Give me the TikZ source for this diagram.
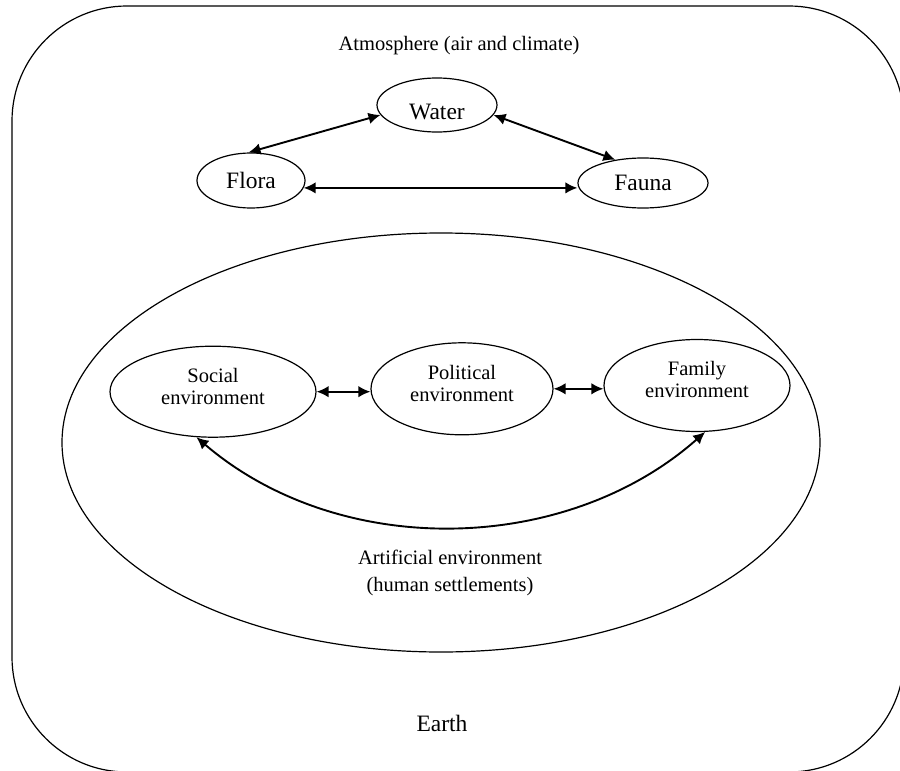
\documentclass[tikz,border=0pt]{standalone}
\usepackage{fontspec}
\setmainfont{Liberation Serif}
\usetikzlibrary{shapes.geometric,arrows.meta}
\begin{document}
\begin{tikzpicture}[x=1pt,y=-1pt,
  oval/.style={draw,ellipse,line width=1.2pt,inner sep=0pt},
  arr/.style={{Latex[length=12pt,width=11.5pt]}-{Latex[length=12pt,width=11.5pt]}, line width=1.9pt},
  bigtxt/.style={font=\fontsize{23.5}{28}\selectfont},
  midtxt/.style={font=\fontsize{20.5}{22}\selectfont, align=center},
  smalltxt/.style={font=\fontsize{20.5}{27}\selectfont, align=center}]
\useasboundingbox (0,0) rectangle (900,771);
\begin{scope}
\clip (0,0) rectangle (900,771);
\draw[line width=1.2pt, rounded corners=115pt] (12,6) rectangle (904,772);
\end{scope}
% texts
\node[smalltxt] (atm) at (459,46) {Atmosphere (air and climate)};
\node[bigtxt] (earth) at (442,723) {Earth};
\node[smalltxt] (art) at (450,573) {Artificial environment\\(human settlements)};
% natural environment
\node[oval,bigtxt,minimum width=120pt,minimum height=54pt] (water) at (437,105) {\raisebox{-7pt}[\height][\depth]{Water}};
\node[oval,bigtxt,minimum width=108pt,minimum height=55pt] (flora) at (251,180.5) {Flora};
\node[oval,bigtxt,minimum width=130pt,minimum height=50pt] (fauna) at (643,183) {Fauna};
% artificial environment
\node[oval,minimum width=758pt,minimum height=419pt] (human) at (441,442.5) {};
\node[oval,midtxt,minimum width=206pt,minimum height=91pt] (soc) at (213,391.7) {\raisebox{3pt}[\height][\depth]{\begin{tabular}{@{}c@{}}Social\\environment\end{tabular}}};
\node[oval,midtxt,minimum width=182pt,minimum height=92pt] (pol) at (462,388.8) {\raisebox{3pt}[\height][\depth]{\begin{tabular}{@{}c@{}}Political\\environment\end{tabular}}};
\node[oval,midtxt,minimum width=186pt,minimum height=92pt] (fam) at (697,385.5) {\raisebox{3pt}[\height][\depth]{\begin{tabular}{@{}c@{}}Family\\environment\end{tabular}}};
% connectors
\draw[arr] (water.190) -- (flora.95);
\draw[arr] (water.-10) -- (fauna.140);
\draw[arr] (flora.-8) -- (flora.-8 -| fauna.west);
\draw[arr] (soc.east) -- (soc.east -| pol.west);
\draw[arr] (pol.east) -- (pol.east -| fam.west);
\draw[arr] (soc.250) .. controls (340,560) and (566,555) .. (fam.280);
\end{tikzpicture}
\end{document}
